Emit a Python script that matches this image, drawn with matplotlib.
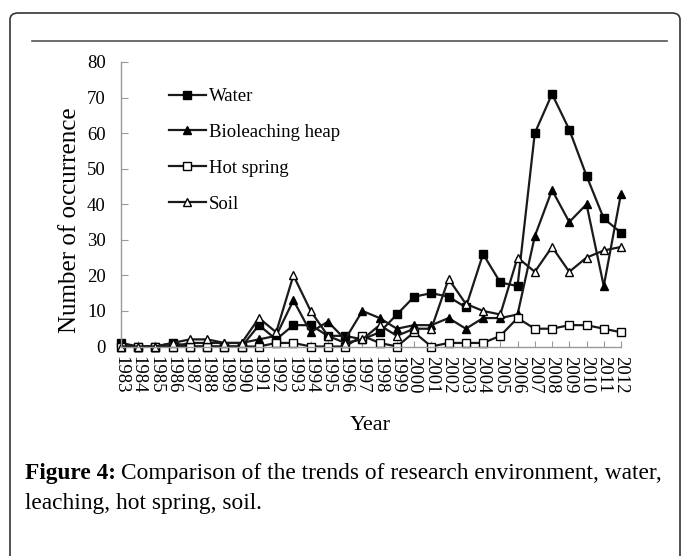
import matplotlib
matplotlib.use("Agg")
import matplotlib.pyplot as plt
from matplotlib.patches import FancyBboxPatch
from matplotlib.lines import Line2D

years = list(range(1983, 2013))
water = [1, 0, 0, 1, 0, 0, 0, 0, 6, 2, 6, 6, 3, 3, 2, 4, 9, 14, 15, 14, 11, 26, 18, 17, 60, 71, 61, 48, 36, 32]
bioleaching = [0, 0, 0, 0, 1, 1, 1, 1, 2, 3, 13, 4, 7, 2, 10, 8, 5, 6, 6, 8, 5, 8, 8, 9, 31, 44, 35, 40, 17, 43]
hot_spring = [0, 0, 0, 0, 0, 0, 0, 0, 0, 1, 1, 0, 0, 0, 3, 1, 0, 4, 0, 1, 1, 1, 3, 8, 5, 5, 6, 6, 5, 4]
soil = [0, 0, 0, 1, 2, 2, 1, 1, 8, 4, 20, 10, 3, 1, 2, 6, 3, 5, 5, 19, 12, 10, 9, 25, 21, 28, 21, 25, 27, 28]
series_names = ["Water", "Bioleaching heap", "Hot spring", "Soil"]
yticks = [0, 10, 20, 30, 40, 50, 60, 70, 80]

plt.rcParams['font.family'] = ['Liberation Serif', 'DejaVu Serif']

W, H = 683, 556
fig = plt.figure(figsize=(W / 100, H / 100), dpi=100)

def fx(px):
    return px / W

def fy(py):
    return 1 - py / H

# outer rounded frame
box = FancyBboxPatch((fx(10), fy(575)), fx(670), (575 - 13) / H,
                     boxstyle="round,pad=0,rounding_size=0.012",
                     transform=fig.transFigure, fill=False,
                     edgecolor="#333333", linewidth=1.2, clip_on=False)
fig.patches.append(box)
fig.lines.append(Line2D([fx(32), fx(667)], [fy(41), fy(41)], transform=fig.transFigure,
                        color="#555555", linewidth=1.2))

ax = fig.add_axes([fx(121), fy(346.5), fx(621) - fx(121), fy(62) - fy(346.5)])

styles = [
    dict(marker="s", mfc="black", mec="black", ms=6),
    dict(marker="^", mfc="black", mec="black", ms=6),
    dict(marker="s", mfc="white", mec="black", ms=6, mew=1.0),
    dict(marker="^", mfc="white", mec="black", ms=6, mew=1.0),
]
data = [water, bioleaching, hot_spring, soil]
for vals, name, st in zip(data, series_names, styles):
    ax.plot(years, vals, color="#1a1a1a", lw=1.6, label=name, clip_on=False, **st)

ax.set_xlim(1983, 2012)
ax.set_ylim(0, 80)
ax.set_yticks(yticks)
ax.set_xticks(years)
ax.set_xticklabels([str(y) for y in years], rotation=-90, fontsize=13.5)
ax.tick_params(axis='y', labelsize=13.5, direction='in', length=5, color="#999999", pad=11)
ax.tick_params(axis='x', direction='in', length=4, color="#999999", pad=7)
for s in ["top", "right"]:
    ax.spines[s].set_visible(False)
for s in ["left", "bottom"]:
    ax.spines[s].set_color("#999999")
    ax.spines[s].set_linewidth(1.0)

leg = ax.legend(loc="upper left", bbox_to_anchor=(0.08, 0.935), frameon=False,
                fontsize=13.5, handlelength=2.0, handletextpad=0.15,
                labelspacing=1.0, borderaxespad=0)

fig.text(fx(70), fy(220), "Number of occurrence", rotation=90, ha="center", va="center", fontsize=18)
fig.text(fx(370), fy(425), "Year", ha="center", va="center", fontsize=16)

# caption
fig.canvas.draw()
r = fig.canvas.get_renderer()
t1 = fig.text(fx(25), fy(474), "Figure 4:", fontweight="bold", fontsize=16.8, ha="left", va="center")
bb = t1.get_window_extent(renderer=r)
fig.text(bb.x1 / W + fx(5), fy(474), "Comparison of the trends of research environment, water,",
         fontsize=16.8, ha="left", va="center")
fig.text(fx(25), fy(504), "leaching, hot spring, soil.", fontsize=16.8, ha="left", va="center")

fig.savefig("out.png", dpi=100)
